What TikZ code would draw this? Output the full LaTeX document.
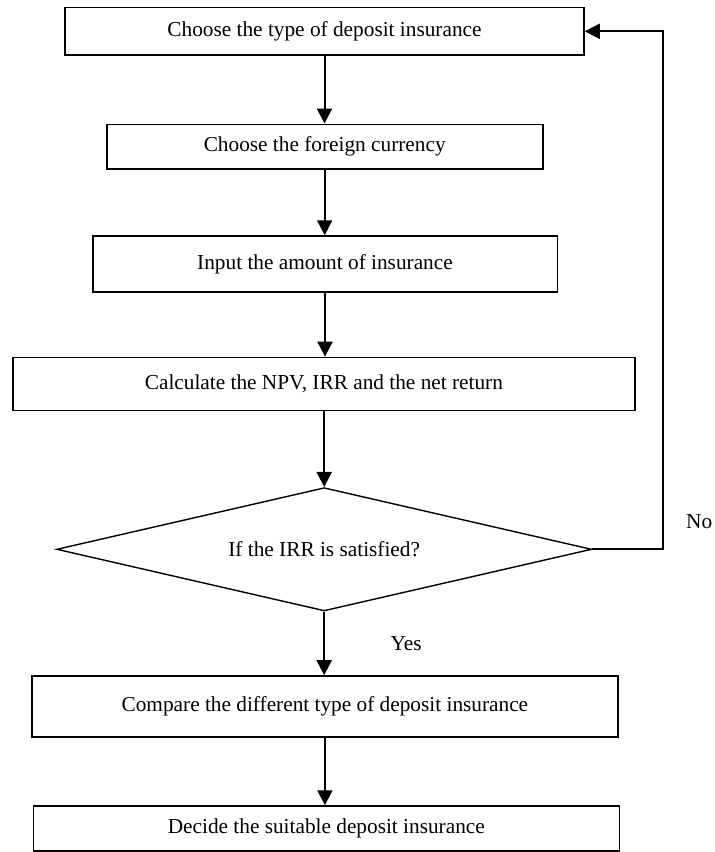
\documentclass[tikz,border=0pt]{standalone}
\usepackage{fontspec}
\setmainfont{Liberation Serif}
\usetikzlibrary{shapes.geometric,arrows.meta}
\begin{document}
\begin{tikzpicture}[x=1pt,y=-1pt,
  every node/.style={font=\fontsize{21.3}{25}\selectfont},
  stepbox/.style={draw=black,line width=1.6pt,rectangle,inner sep=0pt},
  decision/.style={draw=black,line width=1.4pt,diamond,aspect=4.34,inner sep=0pt},
  arr/.style={line width=2pt,-{Triangle[length=15pt,width=15pt]}},
  lbl/.style={anchor=base,inner sep=0pt}]
\useasboundingbox (0,0) rectangle (715,852);
\node[stepbox,minimum width=519pt,minimum height=47.3pt] (b1) at (324.5,31.3) {Choose the type of deposit insurance};
\node[stepbox,minimum width=436pt,minimum height=44.4pt] (b2) at (324.7,146.5) {Choose the foreign currency};
\node[stepbox,minimum width=464.6pt,minimum height=55.7pt] (b3) at (325,263.9) {Input the amount of insurance};
\node[stepbox,minimum width=622.3pt,minimum height=53.2pt] (b4) at (323.9,384) {Calculate the NPV, IRR and the net return};
\node[decision,minimum width=535pt,minimum height=123.3pt] (dia) at (324.2,549.3) {If the IRR is satisfied?};
\node[stepbox,minimum width=586.3pt,minimum height=61pt] (b5) at (324.9,706.5) {Compare the different type of deposit insurance};
\node[stepbox,minimum width=586pt,minimum height=44.7pt] (b6) at (326.3,828.4) {Decide the suitable deposit insurance};
\node[lbl] (yes) at (406.2,650.7) {Yes};
\node[lbl] (no) at (699.2,528) {No};
\coordinate (fb) at (663,549.3);
\draw[arr] (b1.south) -- (b1.south |- b2.north);
\draw[arr] (b2.south) -- (b2.south |- b3.north);
\draw[arr] (b3.south) -- (b3.south |- b4.north);
\draw[arr] (dia.north |- b4.south) -- (dia.north);
\draw[arr] (dia.south) -- (dia.south |- b5.north);
\draw[arr] (b5.south) -- (b5.south |- b6.north);
\draw[arr] (dia.east) -- (fb) |- (b1.east);
\end{tikzpicture}
\end{document}
